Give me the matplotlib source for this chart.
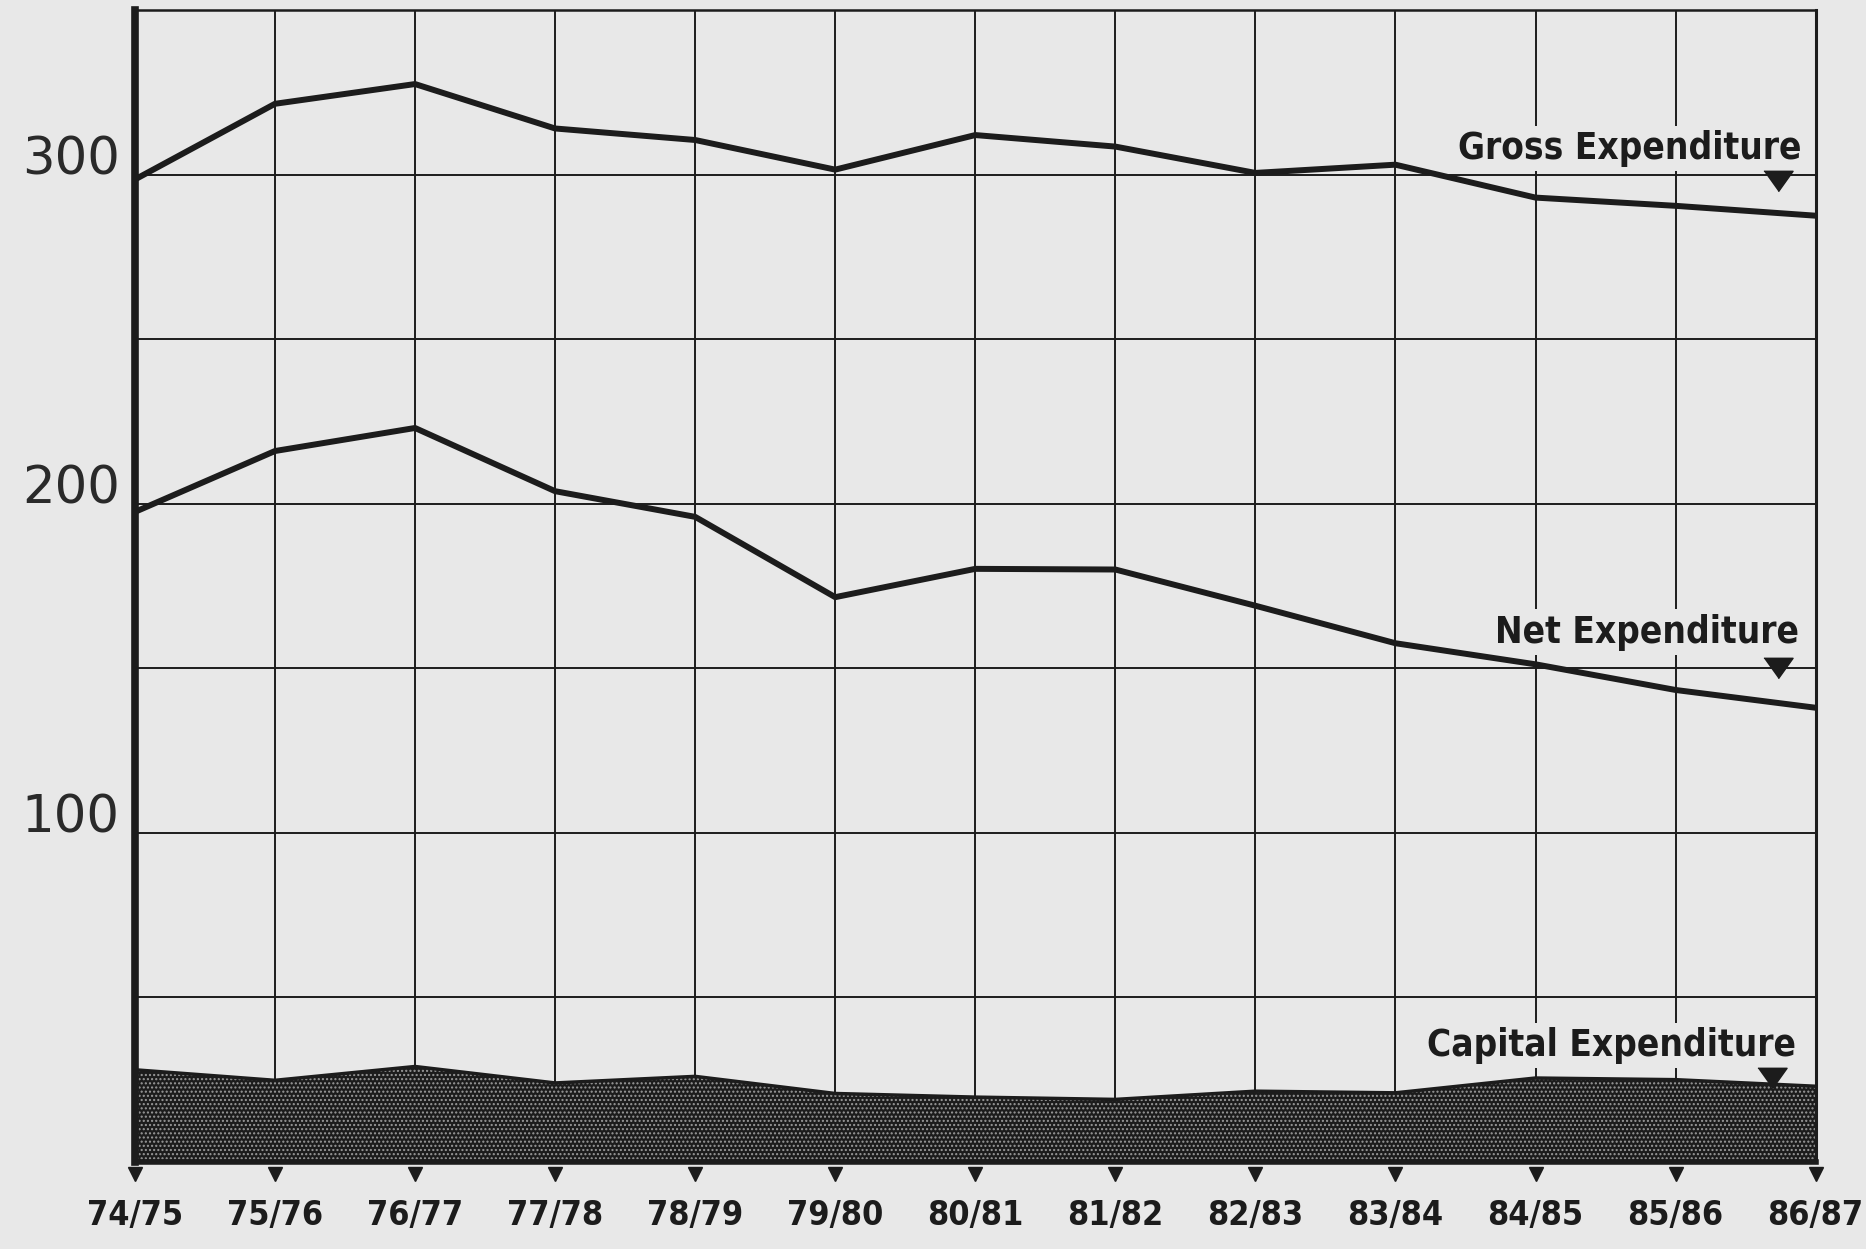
import numpy as np
import matplotlib.pyplot as plt
from matplotlib.transforms import offset_copy

# Werte
years = ['74/75', '75/76', '76/77', '77/78', '78/79', '79/80', '80/81',
         '81/82', '82/83', '83/84', '84/85', '85/86', '86/87']
gross = [298.5, 321.5, 327.5, 314, 310.5, 301.5, 312, 308.5, 300.5, 303,
         293, 290.5, 287.5]
net = [197.5, 216, 223, 203.8, 196, 171.6, 180.2, 180, 169, 157.6, 151.2,
       143.4, 138]
capital = [28, 24.8, 29, 24, 26, 20.8, 19.7, 19, 21.5, 21, 25.5, 25, 23]

paper = '#e8e8e8'
ink = '#1c1c1c'

fig = plt.figure(figsize=(18.66, 12.49), dpi=100, facecolor=paper)
ax = fig.add_axes([0.0723, 0.0697, 0.9007, 0.9223])
ax.set_facecolor(paper)
ax.set_axisbelow(True)

x = np.arange(len(years))

# Kapitalausgaben als gefuellte Flaeche
ax.fill_between(x, 0, capital, facecolor=ink, edgecolor='#9a9a9a',
                hatch='....', linewidth=0, zorder=2)
ax.plot(x, capital, color=ink, lw=2.5, zorder=3)

# Brutto- und Nettoausgaben
ax.plot(x, gross, color=ink, lw=4.3, zorder=4)
ax.plot(x, net, color=ink, lw=4.3, zorder=4)

ax.set_xlim(0, 12)
ax.set_ylim(0, 350)

ax.set_xticks(x, years)
ax.set_yticks([100, 200, 300], ['100', '200', '300'])
ax.set_yticks([0, 50, 150, 250, 350], minor=True)
ax.grid(True, which='both', color=ink, lw=1.4)

ax.tick_params(axis='x', length=0, pad=27)
ax.tick_params(axis='y', which='both', length=0, pad=11)
for lab in ax.get_xticklabels():
    lab.set_fontfamily('DejaVu Sans')
    lab.set_fontstretch('condensed')
    lab.set_fontweight('bold')
    lab.set_fontsize(24.5)
    lab.set_color(ink)
for lab in ax.get_yticklabels():
    lab.set_fontfamily('DejaVu Sans')
    lab.set_fontsize(37)
    lab.set_color('#2a2a2a')
    lab.set_verticalalignment('baseline')

# Rahmen
ax.spines['left'].set_linewidth(5.5)
ax.spines['bottom'].set_linewidth(4)
ax.spines['top'].set_linewidth(1.8)
ax.spines['right'].set_linewidth(2.2)
for s in ax.spines.values():
    s.set_color(ink)
    s.set_zorder(5)

# kleine Dreiecke unter der x-Achse
ax.plot(x, np.zeros(len(x)), 'v', ms=10, color=ink, clip_on=False,
        transform=offset_copy(ax.transData, fig=fig, y=-9, units='points'))

# Beschriftungen der Kurven
tri = [(-1, 0.7), (1, 0.7), (0, -0.7)]
labels = [('Gross Expenditure', 11.9, 308, 11.73, 298),
          ('Net Expenditure', 11.88, 161, 11.73, 150),
          ('Capital Expenditure', 11.86, 35.5, 11.69, 25.5)]
for txt, tx, ty, mx, my in labels:
    ax.text(tx, ty, txt, ha='right', va='center', fontsize=26.5,
            fontweight='bold', family='DejaVu Sans', fontstretch='condensed',
            color=ink, zorder=3.5,
            bbox=dict(facecolor=paper, edgecolor='none', pad=3))
    ax.plot([mx], [my], marker=tri, ms=21, color=ink, zorder=7)

fig.savefig('out.png', dpi=100, facecolor=paper)
